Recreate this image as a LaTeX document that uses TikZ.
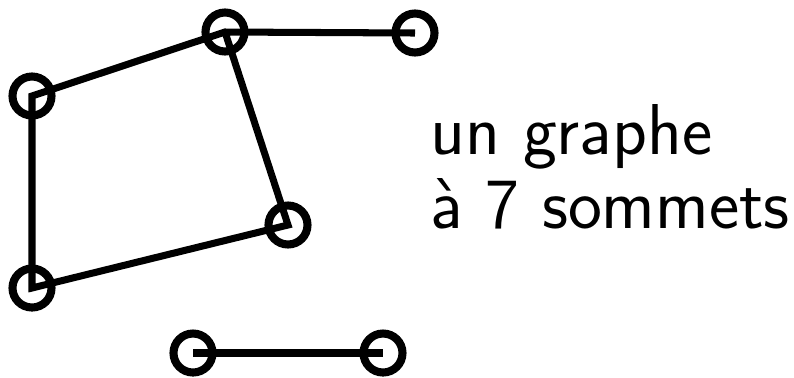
\documentclass[tikz,border=0pt]{standalone}
\usepackage{tikz}
\usetikzlibrary{positioning}

\tikzset{
  sommet/.style={draw, circle, line width=2.3pt, minimum size=0.39cm, inner sep=0pt},
  arete/.style={line width=2pt}
}

\begin{document}
\begin{tikzpicture}
  \useasboundingbox (0,0) rectangle (7.94,3.77);

  % les sommets
  \node[sommet] (a) at (2.25,3.45) {};
  \node[sommet] (b) at (4.15,3.44) {};
  \node[sommet] (c) at (0.32,2.81) {};
  \node[sommet] (d) at (2.88,1.52) {};
  \node[sommet] (e) at (0.32,0.89) {};
  \node[sommet] (f) at (1.93,0.24) {};
  \node[sommet] (g) at (3.83,0.24) {};

  % les aretes
  \draw[arete] (b.center) -- (a.center) -- (c.center) -- (e.center) -- (d.center) -- (a.center);
  \draw[arete] (f.center) -- (g.center);

  \node[anchor=base west, align=left, inner sep=0pt, font=\sffamily\fontsize{20.5}{21}\selectfont]
    (titre) at (4.30,1.49) {un graphe\\à 7 sommets};
\end{tikzpicture}
\end{document}
